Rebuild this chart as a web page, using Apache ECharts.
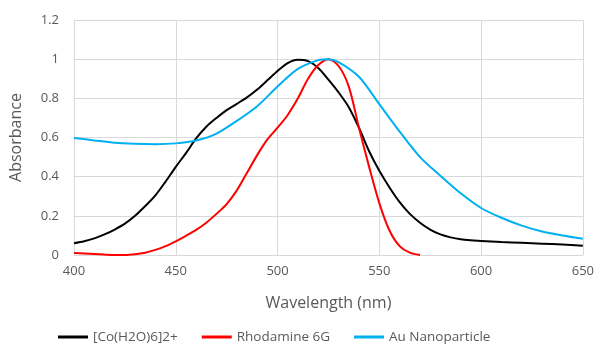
<!DOCTYPE html>
<html><head><meta charset="utf-8">
<script src="https://cdn.jsdelivr.net/npm/echarts@6/dist/echarts.min.js"></script>
<style>html,body{margin:0;padding:0;background:#fff}#c{width:597px;height:345px}</style>
</head><body><div id="c"></div>
<script>
const seriesNames = ['[Co(H2O)6]2+', 'Rhodamine 6G', 'Au Nanoparticle'];
const coX = [400,405,410,415,420,425,430,435,440,445,450,455,460,465,470,475,480,485,490,495,500,505,510,515,520,525,530,535,540,545,550,555,560,565,570,575,580,585,590,595,600,610,620,630,640,650];
const coY = [0.06,0.07,0.085,0.105,0.13,0.16,0.20,0.25,0.305,0.375,0.45,0.52,0.595,0.655,0.70,0.74,0.772,0.805,0.845,0.892,0.94,0.98,0.997,0.99,0.955,0.895,0.83,0.755,0.65,0.53,0.43,0.345,0.27,0.21,0.165,0.13,0.105,0.09,0.08,0.075,0.072,0.066,0.062,0.058,0.053,0.047];
const rhX = [400,405,410,415,420,425,430,435,440,445,450,455,460,465,470,475,480,485,490,495,500,505,510,515,520,525,530,535,540,545,550,555,560,565,570];
const rhY = [0.01,0.008,0.005,0.002,0.0,0.0,0.004,0.012,0.026,0.045,0.07,0.098,0.128,0.165,0.21,0.26,0.33,0.42,0.51,0.59,0.65,0.715,0.80,0.90,0.97,1.0,0.965,0.86,0.65,0.45,0.265,0.125,0.045,0.012,0.0];
const auX = [400,410,420,430,440,450,460,470,480,490,500,510,520,525,530,540,550,560,570,580,590,600,610,620,630,640,650];
const auY = [0.598,0.585,0.573,0.568,0.566,0.57,0.585,0.62,0.685,0.76,0.86,0.95,0.995,1.0,0.985,0.91,0.77,0.63,0.50,0.405,0.315,0.24,0.19,0.15,0.12,0.10,0.083];
const colors = ['#000000', '#ff0000', '#00b0f0'];
const pairs = (xs, ys) => xs.map((x, i) => [x, ys[i]]);
const chart = echarts.init(document.getElementById('c'));
const txt = '#595959', font = 'Open Sans';
chart.setOption({
  animation: false,
  grid: { left: 70, right: 14, top: 20, bottom: 90 },
  xAxis: {
    type: 'value', min: 400, max: 650, interval: 50,
    name: 'Wavelength (nm)', nameLocation: 'middle', nameGap: 40,
    nameTextStyle: { color: txt, fontSize: 16, fontFamily: font },
    axisLine: { show: true, lineStyle: { color: '#d9d9d9' } },
    axisTick: { show: false },
    axisLabel: { color: txt, fontSize: 13, fontFamily: font, margin: 10 },
    splitLine: { show: true, lineStyle: { color: '#d9d9d9', width: 1 } }
  },
  yAxis: {
    type: 'value', min: 0, max: 1.2, interval: 0.2,
    name: 'Absorbance', nameLocation: 'middle', nameGap: 50,
    nameTextStyle: { color: txt, fontSize: 16, fontFamily: font },
    axisLine: { show: true, lineStyle: { color: '#d9d9d9' } },
    axisTick: { show: false },
    axisLabel: { color: txt, fontSize: 13, fontFamily: font, margin: 15, formatter: v => String(Math.round(v * 10) / 10) },
    splitLine: { show: true, lineStyle: { color: '#d9d9d9', width: 1 } }
  },
  legend: {
    left: 53, top: 325, icon: 'rect', itemWidth: 30, itemHeight: 3, itemGap: 24,
    textStyle: { color: txt, fontSize: 13.5, fontFamily: font },
    data: seriesNames
  },
  series: [
    { name: seriesNames[0], type: 'line', data: pairs(coX, coY), smooth: 0.3, showSymbol: false, lineStyle: { color: colors[0], width: 2 }, itemStyle: { color: colors[0] } },
    { name: seriesNames[1], type: 'line', data: pairs(rhX, rhY), smooth: 0.3, showSymbol: false, lineStyle: { color: colors[1], width: 2 }, itemStyle: { color: colors[1] } },
    { name: seriesNames[2], type: 'line', data: pairs(auX, auY), smooth: 0.3, showSymbol: false, lineStyle: { color: colors[2], width: 2 }, itemStyle: { color: colors[2] } }
  ]
});
</script></body></html>
